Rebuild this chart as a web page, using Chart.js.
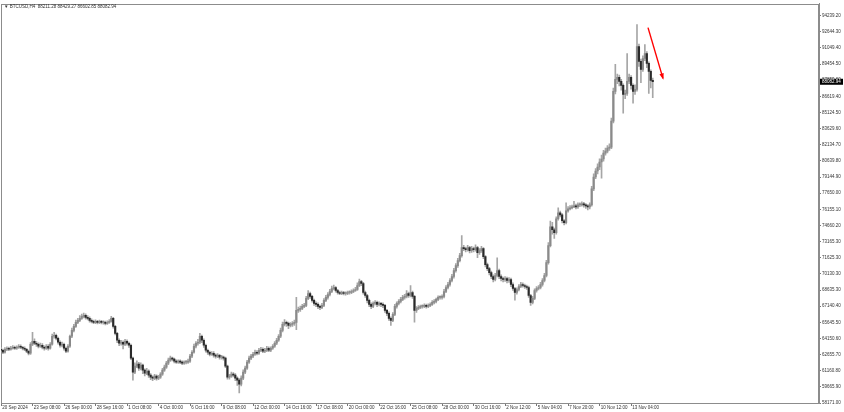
<!DOCTYPE html>
<html>
<head>
<meta charset="utf-8">
<script src="https://cdn.jsdelivr.net/npm/chart.js@4"></script>
<style>
html,body{margin:0;padding:0;background:#fff;}
#wrap{width:844px;height:412px;position:relative;}
</style>
</head>
<body>
<div id="wrap"><canvas id="c"></canvas></div>
<script>
const chartTitle = "\u25BC BTCUSD,H4  88211.28 88429.27 86602.85 88082.94";
const firstOpen = 63178;
const closes = [
63085,62900,63178,63270,63178,63270,63363,63270,
63363,63456,63363,63270,63178,62992,62807,63641,
63919,63734,63641,63456,63549,63363,63270,63456,
63270,63641,64383,64476,64198,63827,63549,63641,
63270,62992,63456,64383,64939,65310,65681,65867,
66052,66237,66330,66145,66052,65867,65774,65681,
65774,65681,65774,65681,65681,65588,65681,65774,
66052,65310,64661,64012,63734,63827,63641,63919,
63734,63549,62343,61045,61602,61787,61416,61694,
61231,60952,61138,60767,60582,60489,60674,60489,
60582,60860,61231,61509,61880,62158,62343,62251,
62065,61972,62065,61972,61880,61972,61972,62065,
62529,62900,63456,63734,63827,64383,64012,63549,
63085,62900,62714,62807,62621,62529,62621,62436,
62436,62343,61602,60582,60674,60860,60767,60489,
60303,59933,60489,61045,61416,61972,62343,62529,
62714,62900,62807,63085,63178,62992,63085,63270,
63085,63270,63456,63734,64012,64383,64939,65496,
65681,65588,65403,65496,65588,65681,66794,66887,
66979,67165,67257,67906,68370,68092,67721,67443,
67350,67165,67072,67257,67721,67999,68277,68555,
68834,68926,68648,68463,68370,68463,68370,68370,
68463,68463,68555,68648,68741,69112,69483,69297,
68463,68185,67721,67350,67165,67443,67536,67350,
67443,67350,67257,66794,66516,66052,65867,66423,
67165,67443,67628,67814,67999,68092,68370,68185,
68463,68092,66794,66979,67072,67165,67165,67257,
67165,67257,67350,67536,67628,67814,67999,67999,
68092,68555,68926,69205,69575,69946,70503,70966,
71430,71893,72635,72542,72450,72635,72357,72542,
72450,72635,72172,72357,72542,71801,71059,70688,
70317,69946,69668,70039,70503,69946,69761,69668,
69761,69575,69668,69205,68834,68463,68741,69019,
69205,69112,69019,68926,68185,67536,67906,68648,
68834,68926,69205,69575,70039,71244,72821,74582,
74304,74026,75324,75880,75695,75139,74953,76066,
76251,76344,76437,76529,76437,76622,76622,76715,
76622,76529,76437,76622,78106,79218,79775,80145,
80609,80887,81444,81629,81907,82000,84411,87192,
88305,88490,88119,87749,86914,87007,88119,88490,
87749,87192,87378,91365,89974,89232,90252,90716,
89788,89047,88211.28,88082.94
];
const highs = [
63360,63200,63320,63410,63380,63450,63520,63470,
63500,63600,63580,63450,63400,63260,63100,63800,
64750,64150,63900,63780,63750,63700,63500,63600,
63620,63800,64600,64750,64600,64300,63950,63850,
63750,63380,63600,64500,65150,65500,65900,66050,
66300,66450,66550,66480,66300,66200,66000,65900,
65920,65880,65900,65870,65830,65800,65820,65950,
66250,66150,65400,64750,64150,64000,63950,64100,
64050,63850,63650,62450,61900,62100,61950,61900,
61800,61350,61400,61250,60900,60700,60850,60800,
60750,61000,61400,61700,62050,62350,62550,62450,
62350,62200,62200,62180,62100,62100,62120,62250,
62700,63050,63650,63900,64100,64650,64500,64150,
63650,63200,63000,62950,62950,62750,62780,62700,
62600,62550,62450,61700,60850,61050,61000,60900,
60600,60450,60700,61250,61600,62150,62550,62700,
62900,63100,63050,63250,63350,63300,63250,63450,
63400,63400,63600,63900,64200,64550,65150,65700,
65950,65800,65700,65650,65750,65900,67999,67100,
67200,67350,67450,68100,68650,68500,68200,67850,
67600,67500,67300,67450,67900,68200,68450,68750,
69050,69150,69000,68750,68600,68600,68580,68520,
68600,68620,68700,68800,68950,69350,69700,69600,
69400,68600,68300,67850,67500,67600,67700,67650,
67600,67550,67500,67350,66900,66650,66200,66600,
67350,67600,67800,68000,68200,68300,68650,68500,
69100,68600,68200,67150,67250,67300,67320,67400,
67380,67400,67500,67700,67800,67950,68150,68150,
68250,68750,69100,69400,69750,70150,70700,71150,
71650,72100,73750,72850,72700,72850,72750,72750,
72700,72900,72750,72550,72750,72650,71900,71200,
70800,70450,70100,70250,71700,70650,70100,69900,
69950,69900,69850,69800,69350,68950,68900,69200,
69400,69350,69250,69150,69050,68300,68100,68800,
69000,69100,69400,69750,70250,71450,73100,75100,
75000,74450,75500,76350,76050,75800,75250,76800,
76450,76550,76600,76950,76700,76800,76800,76900,
76850,76750,76650,76800,78350,79500,80000,80450,
80900,81250,81700,81900,82150,82300,84700,87500,
89700,88800,88700,88300,87900,87300,90700,88800,
88650,87900,87800,93400,91600,90200,90500,91550,
90900,89950,89200,88429.27
];
const lows = [
62900,62760,62820,63050,63040,63100,63180,63150,
63160,63250,63220,63120,63050,62850,62650,62700,
63500,63600,63450,63300,63350,63200,63080,63150,
63100,63180,63550,64200,64050,63650,63380,63400,
63100,62850,62900,63350,64250,64800,65200,65550,
65750,65950,66100,65980,65900,65700,65620,65550,
65560,65540,65560,65530,65520,65450,65480,65580,
65700,65150,64500,63800,63500,63550,63200,63500,
63550,63350,62200,60300,60900,61450,61200,61250,
60900,60700,60800,60550,60350,60250,60350,60300,
60350,60450,60750,61100,61400,61750,62050,62100,
61900,61850,61850,61830,61750,61760,61820,61850,
61950,62400,62800,63300,63550,63700,63800,63350,
62900,62700,62550,62600,62450,62350,62400,62250,
62250,62150,61450,60400,60400,60550,60600,60250,
59800,59100,59750,60350,60900,61300,61850,62200,
62400,62600,62650,62700,62950,62850,62850,62950,
62950,62950,63150,63350,63600,63900,64250,64800,
65350,65300,65100,65250,65300,65400,65000,66600,
66700,66850,67050,67150,67800,67900,67550,67250,
67150,66950,66850,66950,67150,67600,67850,68150,
68450,68700,68500,68300,68250,68250,68230,68220,
68250,68300,68350,68450,68550,68650,69000,69100,
68300,68000,67500,67150,66950,67050,67300,67150,
67200,67150,67050,66600,66300,65850,65400,65750,
66300,67000,67300,67500,67700,67850,67950,68000,
68050,67900,65700,66600,66850,66950,67000,67050,
67000,67050,67150,67250,67400,67500,67700,67850,
67850,67950,68450,68800,69050,69450,69800,70350,
70800,71300,71750,72350,72250,72300,72150,72200,
72250,72300,71700,72000,72200,71600,70850,70500,
70100,69750,69450,69550,69900,69750,69550,69450,
69500,69350,69400,69000,68650,67750,68300,68600,
68900,68950,68850,68750,68000,67250,67400,67800,
68500,68700,68800,69050,69450,69900,71100,72700,
73900,73500,73900,75200,75500,74950,74750,74850,
75950,76150,76250,76350,76250,76300,76450,76500,
76400,76300,76150,76250,76500,77950,79050,79500,
79900,79100,80700,81250,81450,81700,81850,84250,
86950,87900,87700,87300,85150,86500,86800,87900,
87400,86100,86900,87200,89500,88000,89050,90050,
89400,87000,87500,86602.85
];
const xTickBars = [0,16,32,48,64,80,96,112,128,144,160,176,192,208,224,240,256,272,288,304,320];
const xTickLabels = ["20 Sep 2024","23 Sep 08:00","26 Sep 00:00","28 Sep 16:00","1 Oct 08:00","4 Oct 00:00","6 Oct 16:00","9 Oct 08:00","12 Oct 00:00","14 Oct 16:00","17 Oct 08:00","20 Oct 00:00","22 Oct 16:00","25 Oct 08:00","28 Oct 00:00","30 Oct 16:00","2 Nov 12:00","5 Nov 04:00","7 Nov 20:00","10 Nov 12:00","13 Nov 04:00"];
const yTickLabels = ["58171.00","59665.90","61160.80","62655.70","64150.60","65645.50","67140.40","68635.30","70130.30","71625.30","73165.30","74660.20","76155.10","77650.00","79144.90","80639.80","82134.70","83629.60","85124.50","86619.40","87859.60","89454.50","91049.40","92644.30","94239.20"];
const lastPrice = 88082.94;
const arrowPath = [{x:328.6, y:93126},{x:336.2, y:88398}];

const yBottom = 58171.00, yTopLabel = 94239.20;
const yStep = (yTopLabel - yBottom) / (yTickLabels.length - 1);
const dollarsPerPx = 92.72;
const yMaxVal = yBottom + 401 * dollarsPerPx;
const xMaxVal = 818 / 1.969;

const opens = closes.map((c, i) => i === 0 ? firstOpen : closes[i - 1]);
const wickData = closes.map((c, i) => ({x: i, y: [lows[i], highs[i]]}));
const bodyData = closes.map((c, i) => ({x: i, y: [opens[i], c]}));
const bodyColors = closes.map((c, i) => c >= opens[i] ? '#8a8a8a' : '#2a2a2a');

Chart.defaults.font.family = "'Liberation Sans', Arial, sans-serif";

const decor = {
  id: 'decor',
  beforeDatasetsDraw(chart) {
    const {ctx, chartArea: a} = chart;
    ctx.save();
    ctx.strokeStyle = '#8c8c8c';
    ctx.lineWidth = 1;
    ctx.strokeRect(Math.round(a.left) + 0.5, Math.round(a.top) + 0.5, Math.round(a.right - a.left) - 1, Math.round(a.bottom - a.top));
    ctx.restore();
  },
  afterDatasetsDraw(chart) {
    const {ctx} = chart;
    const xs = chart.scales.x, ys = chart.scales.y;
    const x1 = xs.getPixelForValue(arrowPath[0].x), y1 = ys.getPixelForValue(arrowPath[0].y);
    const x2 = xs.getPixelForValue(arrowPath[1].x), y2 = ys.getPixelForValue(arrowPath[1].y);
    const ang = Math.atan2(y2 - y1, x2 - x1);
    const L = 5, W = 2.2;
    ctx.save();
    ctx.fillStyle = '#ff0000';
    ctx.beginPath();
    ctx.moveTo(x2 + Math.cos(ang) * 1.5, y2 + Math.sin(ang) * 1.5);
    ctx.lineTo(x2 - L * Math.cos(ang) + W * Math.sin(ang), y2 - L * Math.sin(ang) - W * Math.cos(ang));
    ctx.lineTo(x2 - L * Math.cos(ang) - W * Math.sin(ang), y2 - L * Math.sin(ang) + W * Math.cos(ang));
    ctx.closePath();
    ctx.fill();
    ctx.restore();
  },
  afterDraw(chart) {
    const {ctx} = chart;
    const ys = chart.scales.y;
    const py = ys.getPixelForValue(lastPrice);
    ctx.save();
    ctx.fillStyle = '#000';
    ctx.fillRect(ys.left + 1, py - 3, 843 - ys.left - 1, 6);
    ctx.fillStyle = '#fff';
    ctx.font = "4.5px 'Liberation Sans', Arial, sans-serif";
    ctx.textBaseline = 'middle';
    ctx.textAlign = 'left';
    ctx.fillText(lastPrice.toFixed(2), ys.left + 3, py);
    ctx.fillStyle = '#333';
    ctx.fillText(chartTitle, 4, 7);
    ctx.restore();
  }
};

new Chart(document.getElementById('c'), {
  type: 'bar',
  data: {
    datasets: [
      {
        type: 'line',
        data: arrowPath,
        borderColor: '#ff0000',
        borderWidth: 1.4,
        pointRadius: 0,
        fill: false,
        order: 0
      },
      {
        data: bodyData,
        backgroundColor: bodyColors,
        borderWidth: 0,
        barThickness: 1.5,
        minBarLength: 1,
        grouped: false,
        order: 1
      },
      {
        data: wickData,
        backgroundColor: '#a6a6a6',
        borderWidth: 0,
        barThickness: 1,
        grouped: false,
        order: 2
      }
    ]
  },
  options: {
    responsive: true,
    maintainAspectRatio: false,
    animation: false,
    layout: {padding: {left: 1, top: 2, right: 0, bottom: 0}},
    plugins: {legend: {display: false}, tooltip: {enabled: false}, title: {display: false}},
    scales: {
      x: {
        type: 'linear',
        min: 0,
        max: xMaxVal,
        offset: false,
        grid: {display: true, drawOnChartArea: false, offset: false, tickLength: 3, color: '#777'},
        border: {display: true, color: '#8c8c8c'},
        ticks: {
          align: 'start',
          autoSkip: false,
          maxRotation: 0,
          padding: -1,
          color: '#333',
          font: {size: 4.5},
          callback: (v, i) => ' ' + (xTickLabels[i] || '')
        },
        afterBuildTicks: (s) => { s.ticks = xTickBars.map(v => ({value: v})); },
        afterFit: (s) => { s.height = 9; }
      },
      y: {
        type: 'linear',
        position: 'right',
        min: yBottom,
        max: yMaxVal,
        grid: {display: true, drawOnChartArea: false, tickLength: 2, color: '#777'},
        border: {display: true, color: '#8c8c8c'},
        ticks: {
          crossAlign: 'near',
          padding: 1,
          color: '#333',
          font: {size: 4.5},
          callback: (v, i) => yTickLabels[i]
        },
        afterBuildTicks: (s) => { s.ticks = yTickLabels.map((t, i) => ({value: yBottom + i * yStep})); },
        afterFit: (s) => { s.width = 25; }
      }
    }
  },
  plugins: [decor]
});
</script>
</body>
</html>
